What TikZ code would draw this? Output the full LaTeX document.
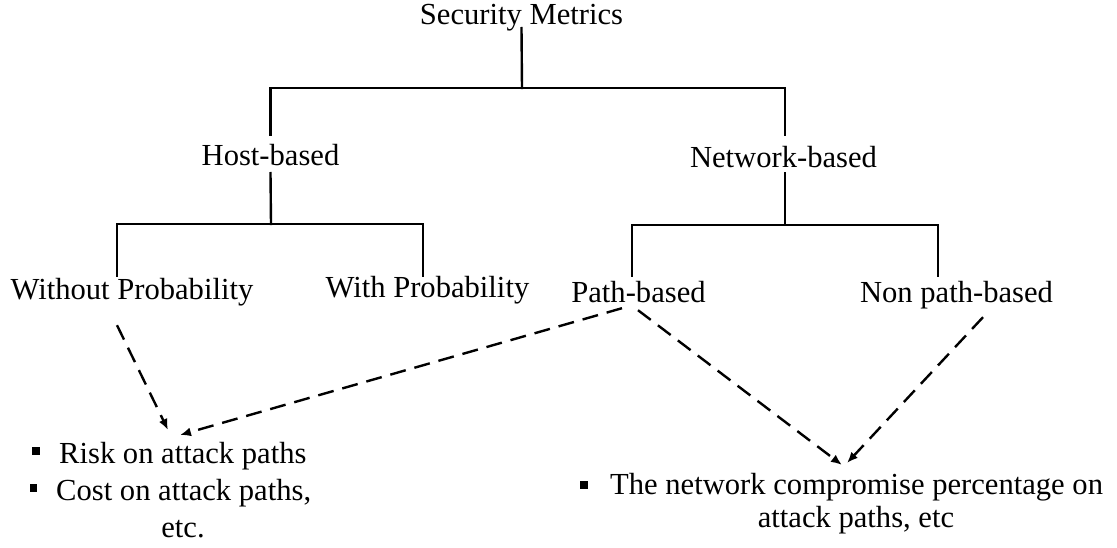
\documentclass[tikz,border=0pt]{standalone}
\usepackage{fontspec}
\setmainfont{Liberation Serif}
\usetikzlibrary{arrows.meta}
\begin{document}
\begin{tikzpicture}[x=1pt,y=-1pt,
  lbl/.style={inner sep=0pt, anchor=base, text height=21pt, text depth=7pt, font=\fontsize{30.6}{37}\selectfont},
  tree/.style={line width=2.4pt, line cap=rect},
  dasharrow/.style={line width=2.4pt, dash pattern=on 16pt off 9pt, -{Latex[length=11pt,width=9pt]}},
  bul/.style={fill=black, inner sep=0pt, minimum size=7.5pt}]
\useasboundingbox[fill=white] (0,0) rectangle (1117,548);

% labels
\node[lbl] (sm)   at (521.5,25)  {Security Metrics};
\node[lbl] (host) at (270.5,166) {Host-based};
\node[lbl] (net)  at (783.5,168) {Network-based};
\node[lbl] (wo)   at (132,300)   {Without Probability};
\node[lbl] (wp)   at (427.5,298) {With Probability};
\node[lbl] (pb)   at (638.5,302) {Path-based};
\node[lbl] (npb)  at (956.5,302) {Non path-based};

% bullet texts
\node[bul] (b1) at (36,451) {};
\node[lbl, anchor=base west] (r1) at (59,463) {Risk on attack paths};
\node[bul] (b2) at (33.5,488) {};
\node[lbl, anchor=base west] (r2) at (56,500) {Cost on attack paths,};
\node[lbl] (r3) at (183,537) {etc.};
\node[bul] (b3) at (584,485) {};
\node[lbl, anchor=base west] (r4) at (610,494) {The network compromise percentage on};
\node[lbl] (r5) at (856,527) {attack paths, etc};

% junctions
\coordinate (j1) at (522,88);
\coordinate (j2) at (271,224);
\coordinate (j3) at (785,225);
\coordinate (hostIn) at ([yshift=10pt]host.north);
\coordinate (netIn)  at ([xshift=1.5pt,yshift=12pt]net.north);
\coordinate (netOut) at ([xshift=1.5pt,yshift=2pt]net.south);
\coordinate (woIn)  at ([xshift=-15pt,yshift=3pt]wo.north);
\coordinate (wpIn)  at ([xshift=-4.5pt,yshift=1pt]wp.north);
\coordinate (pbIn)  at ([xshift=-6.5pt,yshift=5pt]pb.north);
\coordinate (npbIn) at ([xshift=-18.5pt,yshift=5pt]npb.north);

% tree connectors
\draw[tree] ([yshift=4pt]sm.south) -- (j1);
\draw[tree] (hostIn) |- (j1) -| (netIn);
\draw[tree] (host.south) -- (j2);
\draw[tree] (woIn) |- (j2) -| (wpIn);
\draw[tree] (netOut) -- (j3);
\draw[tree] (pbIn) |- (j3) -| (npbIn);

% dashed arrows
\coordinate (a1) at ([xshift=-15pt,yshift=-18pt]wo.south);
\coordinate (a2) at ([xshift=-16.5pt,yshift=1pt]pb.south);
\coordinate (a3) at ([xshift=-0.5pt,yshift=-1pt]pb.south);
\coordinate (a4) at ([xshift=26.5pt,yshift=-8pt]npb.south);
\coordinate (t1) at (168,430);
\coordinate (t2) at (180,435);
\coordinate (t3) at (842,465);
\coordinate (t4) at (847,463);
\draw[dasharrow] (a1) -- (t1);
\draw[dasharrow] (a2) -- (t2);
\draw[dasharrow] (a3) -- (t3);
\draw[dasharrow] (a4) -- (t4);
\end{tikzpicture}
\end{document}
